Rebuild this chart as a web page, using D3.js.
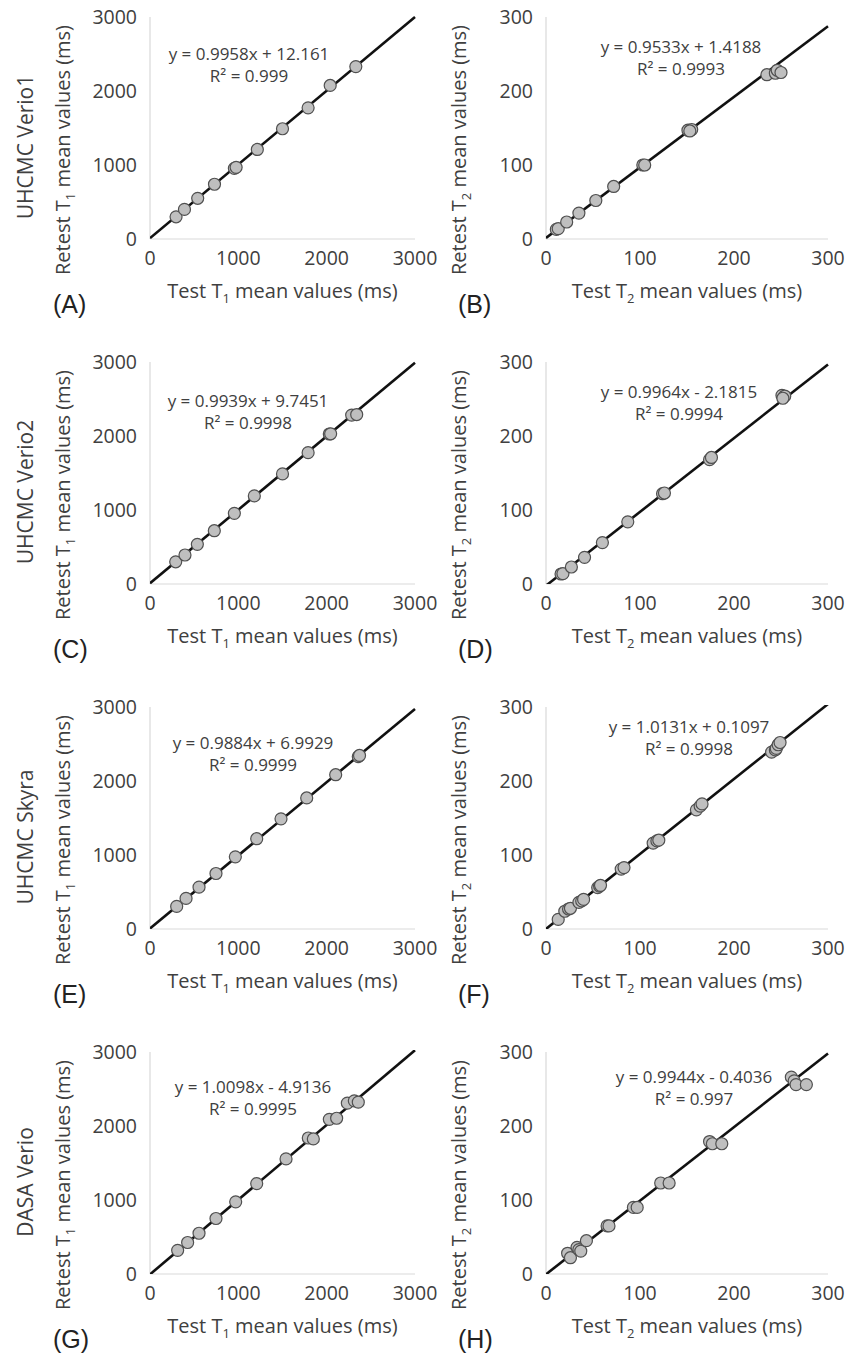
<!DOCTYPE html>
<html>
<head>
<meta charset="utf-8">
<script src="https://cdn.jsdelivr.net/npm/d3@7"></script>
<style>
  body { margin: 0; background: #fff; }
  svg { display: block; }
</style>
</head>
<body>
<svg id="fig" width="850" height="1359"></svg>
<script>
// reading off the picture: [test, retest] pairs for each panel
var pointsA = [[295, 300], [390, 400], [540, 550], [730, 740], [955, 955], [975, 968], [1215, 1210],
    [1500, 1490], [1790, 1772], [2040, 2075], [2330, 2330]];
var pointsB = [[11, 13], [13, 14], [22, 23], [35, 35], [53, 52], [72, 71], [103, 100], [105, 100],
    [151, 147], [155, 148], [153, 146], [235, 222], [244, 224], [246, 228], [250, 225]];
var pointsC = [[291, 300], [396, 392], [536, 536], [728, 720], [955, 955], [1181, 1190], [1500, 1488],
    [1790, 1775], [2030, 2027], [2045, 2030], [2283, 2283], [2340, 2290]];
var pointsD = [[16, 13.5], [18, 14], [27, 23], [41, 36], [60, 56], [87, 84], [124, 122], [126, 123],
    [174, 168], [176, 171], [251, 255], [254, 254], [252, 251]];
var pointsE = [[302, 305], [408, 413], [555, 565], [747, 750], [966, 975], [1208, 1220], [1483, 1489],
    [1774, 1771], [2102, 2085], [2358, 2330], [2372, 2345]];
var pointsF = [[13, 13], [20, 24], [24, 27], [26, 28], [35, 36], [38, 38], [40, 40], [55, 56], [57, 58],
    [58, 59], [80, 81], [83, 83], [114, 116], [118, 119], [120, 120], [160, 161], [164, 166], [166, 169],
    [240, 239], [244, 242], [245, 244], [247, 249], [249, 252]];
var pointsG = [[313, 320], [426, 426], [555, 551], [747, 750], [970, 975], [1208, 1222], [1540, 1555],
    [1792, 1838], [1849, 1825], [2030, 2090], [2113, 2105], [2234, 2309], [2313, 2340], [2358, 2322]];
var pointsH = [[23, 28], [26, 22], [33, 36], [35, 33], [37, 31], [43, 45], [65, 65], [67, 65], [93, 90],
    [97, 90], [122, 123], [131, 123], [174, 179], [177, 176], [187, 176], [261, 266], [264, 261],
    [266, 256], [277, 256]];

var allPoints = [pointsA, pointsB, pointsC, pointsD, pointsE, pointsF, pointsG, pointsH];
var slopes = [0.9958, 0.9533, 0.9939, 0.9964, 0.9884, 1.0131, 1.0098, 0.9944];
var intercepts = [12.161, 1.4188, 9.7451, -2.1815, 6.9929, 0.1097, -4.9136, -0.4036];
var eqTexts = ["y = 0.9958x + 12.161", "y = 0.9533x + 1.4188", "y = 0.9939x + 9.7451", "y = 0.9964x - 2.1815",
    "y = 0.9884x + 6.9929", "y = 1.0131x + 0.1097", "y = 1.0098x - 4.9136", "y = 0.9944x - 0.4036"];
var r2Texts = ["R² = 0.999", "R² = 0.9993", "R² = 0.9998", "R² = 0.9994",
    "R² = 0.9999", "R² = 0.9998", "R² = 0.9995", "R² = 0.997"];
var panelLetters = ["(A)", "(B)", "(C)", "(D)", "(E)", "(F)", "(G)", "(H)"];
var rowLabels = ["UHCMC Verio1", "UHCMC Verio2", "UHCMC Skyra", "DASA Verio"];
var t1Ticks = [0, 1000, 2000, 3000];
var t2Ticks = [0, 100, 200, 300];

// layout
var ROW_STEP = 345;
var PLOT_TOP = 17, PLOT_BOTTOM = 239;
var cols = [{x0: 150, x1: 415, max: 3000, ticks: t1Ticks, sub: "1"},
            {x0: 546, x1: 828, max: 300, ticks: t2Ticks, sub: "2"}];
// equation label centres, per panel (x, baseline of first line relative to row)
var eqPos = [[249, 60], [681, 53], [248, 62], [679, 53], [253, 59], [689, 43], [253, 58], [694, 48]];

var TEXT = "#404040";
var FONT = "'Open Sans', sans-serif";

var svg = d3.select("#fig");

function titleText(g, sub, prefix) {
    g.append("tspan").text(prefix + "T");
    g.append("tspan").attr("font-size", 13).attr("dy", 5).text(sub);
    g.append("tspan").attr("dy", -5).text(" mean values (ms)");
}

allPoints.forEach(function (pts, i) {
    var row = Math.floor(i / 2), c = cols[i % 2];
    var dy = row * ROW_STEP;
    var top = PLOT_TOP + dy, bottom = PLOT_BOTTOM + dy;

    var x = d3.scaleLinear().domain([0, c.max]).range([c.x0, c.x1]);
    var y = d3.scaleLinear().domain([0, c.max]).range([bottom, top]);

    var g = svg.append("g");

    // axes: light grey lines, no ticks
    g.append("line").attr("x1", c.x0).attr("x2", c.x0).attr("y1", top).attr("y2", bottom)
        .attr("stroke", "#d9d9d9").attr("stroke-width", 1.2);
    g.append("line").attr("x1", c.x0).attr("x2", c.x1).attr("y1", bottom).attr("y2", bottom)
        .attr("stroke", "#d9d9d9").attr("stroke-width", 1.2);

    g.selectAll(".ytick").data(c.ticks).enter().append("text")
        .attr("x", c.x0 - 13).attr("y", function (d) { return y(d); })
        .attr("dy", "0.36em").attr("text-anchor", "end")
        .attr("font-family", FONT).attr("font-size", 19.5).attr("fill", TEXT)
        .text(function (d) { return d; });

    g.selectAll(".xtick").data(c.ticks).enter().append("text")
        .attr("x", function (d) { return x(d); }).attr("y", bottom + 26)
        .attr("text-anchor", "middle")
        .attr("font-family", FONT).attr("font-size", 19.5).attr("fill", TEXT)
        .text(function (d) { return d; });

    // trend line, clipped to the plot box
    var clipId = "clip" + i;
    svg.append("clipPath").attr("id", clipId).append("rect")
        .attr("x", c.x0).attr("y", top - 2).attr("width", c.x1 - c.x0 + 2).attr("height", bottom - top + 2);
    var m = slopes[i], b = intercepts[i];
    g.append("line").attr("clip-path", "url(#" + clipId + ")")
        .attr("x1", x(0)).attr("y1", y(b))
        .attr("x2", x(c.max)).attr("y2", y(m * c.max + b))
        .attr("stroke", "#111").attr("stroke-width", 2.6);

    g.selectAll("circle").data(pts).enter().append("circle")
        .attr("cx", function (d) { return x(d[0]); })
        .attr("cy", function (d) { return y(d[1]); })
        .attr("r", 6)
        .attr("fill", "#bfbfbf").attr("stroke", "#505050").attr("stroke-width", 1.2);

    // equation
    var ex = eqPos[i][0], ey = eqPos[i][1] + dy;
    g.append("text").attr("x", ex).attr("y", ey).attr("text-anchor", "middle")
        .attr("font-family", FONT).attr("font-size", 17).attr("fill", TEXT).text(eqTexts[i]);
    g.append("text").attr("x", ex).attr("y", ey + 22).attr("text-anchor", "middle")
        .attr("font-family", FONT).attr("font-size", 17).attr("fill", TEXT).text(r2Texts[i]);

    // axis titles
    var xt = g.append("text").attr("x", (c.x0 + c.x1) / 2).attr("y", 298 + dy)
        .attr("text-anchor", "middle").attr("font-family", FONT).attr("font-size", 20).attr("fill", TEXT);
    titleText(xt, c.sub, "Test ");

    var ytx = c.x0 - 80;
    var yt = g.append("text").attr("transform", "translate(" + ytx + "," + (150 + dy) + ") rotate(-90)")
        .attr("text-anchor", "middle").attr("font-family", FONT).attr("font-size", 20).attr("fill", TEXT);
    titleText(yt, c.sub, "Retest ");

    // panel letter
    g.append("text").attr("x", i % 2 === 0 ? 53 : 458).attr("y", 313 + dy)
        .attr("font-family", "'Liberation Sans', Arial, sans-serif").attr("font-size", 25).attr("fill", "#222")
        .text(panelLetters[i]);
});

svg.selectAll(".rowlabel").data(rowLabels).enter().append("text")
    .attr("transform", function (d, r) { return "translate(33," + (147 + r * ROW_STEP) + ") rotate(-90)"; })
    .attr("text-anchor", "middle").attr("font-family", FONT).attr("font-size", 21).attr("fill", TEXT)
    .text(function (d) { return d; });
</script>
</body>
</html>
